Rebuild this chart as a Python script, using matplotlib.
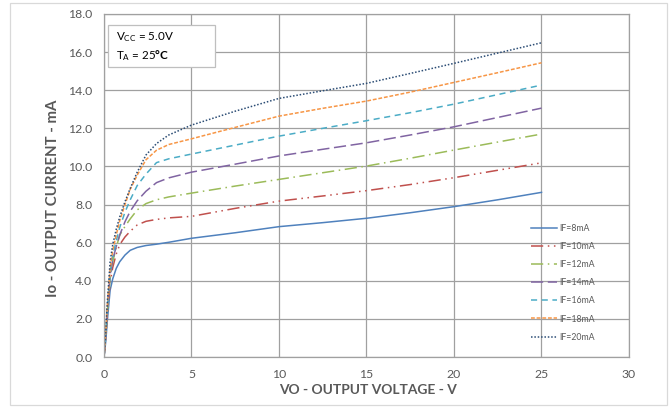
import matplotlib
matplotlib.use("Agg")
import matplotlib.pyplot as plt
from matplotlib.patches import Rectangle

plt.rcParams['font.family'] = ['Lato', 'DejaVu Sans']
plt.rcParams['mathtext.fontset'] = 'custom'
plt.rcParams['mathtext.rm'] = 'Lato'
plt.rcParams['mathtext.bf'] = 'Lato:bold'

# output voltage points (V)
vo = [0, 0.1, 0.2, 0.35, 0.5, 0.7, 0.9, 1.2, 1.5, 1.9, 2.4, 3.0, 3.7,
      5, 7.5, 10, 12.5, 15, 17.5, 20, 22.5, 25]

# output current (mA) per forward current
io_8 = [0, 0.8, 2.0, 3.5, 4.1, 4.65, 5.0, 5.35, 5.6, 5.75, 5.85, 5.92, 6.02,
        6.23, 6.52, 6.84, 7.05, 7.28, 7.57, 7.89, 8.25, 8.64]
io_10 = [0, 1.0, 2.4, 3.9, 4.7, 5.4, 5.9, 6.3, 6.6, 6.93, 7.12, 7.22, 7.3,
         7.38, 7.8, 8.18, 8.45, 8.73, 9.05, 9.41, 9.8, 10.19]
io_12 = [0, 1.1, 2.5, 4.1, 5.0, 5.75, 6.4, 6.85, 7.25, 7.72, 8.05, 8.25, 8.4,
         8.6, 8.97, 9.32, 9.67, 10.02, 10.43, 10.86, 11.28, 11.7]
io_14 = [0, 1.1, 2.6, 4.3, 5.1, 5.8, 6.4, 7.1, 7.65, 8.2, 8.7, 9.15, 9.4,
         9.7, 10.12, 10.55, 10.9, 11.24, 11.65, 12.08, 12.57, 13.06]
io_16 = [0, 1.2, 2.7, 4.4, 5.3, 6.1, 6.8, 7.6, 8.25, 9.0, 9.6, 10.2, 10.4,
         10.65, 11.12, 11.59, 12.0, 12.4, 12.82, 13.27, 13.77, 14.27]
io_18 = [0, 1.2, 2.8, 4.6, 5.6, 6.4, 7.15, 8.0, 8.8, 9.55, 10.35, 10.85, 11.15,
         11.45, 12.05, 12.64, 13.05, 13.43, 13.9, 14.41, 14.92, 15.44]
io_20 = [0, 1.3, 3.0, 5.0, 5.9, 6.7, 7.35, 8.15, 8.85, 9.7, 10.6, 11.2, 11.65,
         12.17, 12.9, 13.57, 13.97, 14.36, 14.88, 15.41, 15.95, 16.49]

labels = ['IF=8mA', 'IF=10mA', 'IF=12mA', 'IF=14mA', 'IF=16mA', 'IF=18mA', 'IF=20mA']
series = [io_8, io_10, io_12, io_14, io_16, io_18, io_20]
colors = ['#4F81BD', '#C0504D', '#9BBB59', '#8064A2', '#4BACC6', '#F79646', '#2C4D75']
dashes = [None, (8, 3, 1, 3, 1, 3), (8, 3, 1, 3), (8, 3), (4, 3), (2.5, 1.2), (1, 1.2)]

fig = plt.figure(figsize=(6.7, 4.08), dpi=100)
ax = fig.add_axes([0.1552, 0.125, 0.7836, 0.8407])

for y, lab, c, d in zip(series, labels, colors, dashes):
    line, = ax.plot(vo, y, color=c, lw=1.1, label=lab)
    if d is not None:
        line.set_dashes(d)

ax.set_xlim(0, 30)
ax.set_ylim(0, 18)
ax.set_xticks(range(0, 31, 5))
ax.set_yticks([i * 2 for i in range(10)])
ax.set_yticklabels([f"{i * 2:.1f}" for i in range(10)])
ax.grid(True, color='#A0A0A0', lw=0.9)
ax.set_axisbelow(True)
for s in ax.spines.values():
    s.set_color('#A0A0A0')
    s.set_linewidth(0.9)
ax.tick_params(colors='#595959', labelsize=8.8, length=0)
ax.tick_params(axis='x', pad=9)
ax.tick_params(axis='y', pad=8.4)

ax.set_xlabel('VO - OUTPUT VOLTAGE - V', fontsize=9.9, fontweight='bold', color='#595959')
ax.set_ylabel('Io - OUTPUT CURRENT - mA', fontsize=10.8, fontweight='bold', color='#595959')
ax.xaxis.set_label_coords(0.503, -0.078)
ax.yaxis.set_label_coords(-0.084, 0.4636)

# condition box
ax.add_patch(Rectangle((0.0076, 0.8455), 0.204, 0.1225, transform=ax.transAxes,
                       fc='white', ec='#BFBFBF', lw=0.9, zorder=5))
ax.text(0.0229, 0.932, '$\\mathregular{V_{CC}}$ = 5.0V', transform=ax.transAxes,
        fontsize=8.4, va='center', ha='left', zorder=6)
ax.text(0.0229, 0.878, '$\\mathregular{T_A}$ = 25$\\mathbf{°C}$', transform=ax.transAxes,
        fontsize=8.4, va='center', ha='left', zorder=6)

leg = ax.legend(loc='upper left', bbox_to_anchor=(0.813, 0.389), frameon=False,
                fontsize=6.3, handlelength=3.0, labelspacing=1.05, handletextpad=0.3,
                borderpad=0, borderaxespad=0)
for t in leg.get_texts():
    t.set_color('#595959')

fig.patches.append(Rectangle((0.015, 0.007), 0.98, 0.985, transform=fig.transFigure,
                             fill=False, ec='#D9D9D9', lw=0.9))

plt.savefig('out.png', dpi=100)
